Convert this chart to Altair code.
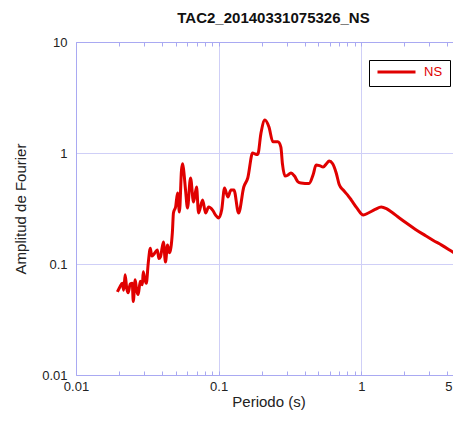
import altair as alt
import pandas as pd

periods = [0.0195, 0.0203, 0.0211, 0.0216, 0.0221, 0.0227, 0.0232, 0.0240, 0.0248, 0.0252,
           0.0260, 0.0266, 0.0273, 0.0282, 0.0292, 0.0296, 0.0304, 0.0311, 0.0321, 0.0332,
           0.0340, 0.0349, 0.0360, 0.0372, 0.0381, 0.0391, 0.0410, 0.0424, 0.0438, 0.0452,
           0.0474, 0.0482, 0.0500, 0.0515, 0.0531, 0.0549, 0.0558, 0.0567, 0.0586, 0.0605,
           0.0635, 0.0667, 0.0700, 0.0723, 0.0772, 0.0810, 0.0851, 0.0907, 0.0952, 0.100,
           0.105, 0.110, 0.116, 0.122, 0.128, 0.138, 0.150, 0.160, 0.173, 0.180,
           0.188, 0.198, 0.211, 0.225, 0.240, 0.260, 0.273, 0.280, 0.292, 0.305,
           0.321, 0.340, 0.360, 0.378, 0.430, 0.460, 0.482, 0.510, 0.540, 0.570,
           0.595, 0.630, 0.667, 0.700, 0.747, 0.800, 0.851, 0.930, 1.033, 1.12,
           1.25, 1.38, 1.50, 1.63, 1.85, 2.07, 2.40, 2.78, 3.20, 3.66,
           4.30, 5.00]
amplitudes = [0.056, 0.062, 0.067, 0.058, 0.080, 0.060, 0.055, 0.066, 0.067, 0.046,
              0.072, 0.058, 0.053, 0.070, 0.065, 0.085, 0.072, 0.067, 0.102, 0.139,
              0.118, 0.121, 0.128, 0.134, 0.112, 0.116, 0.158, 0.104, 0.148, 0.126,
              0.194, 0.288, 0.330, 0.436, 0.294, 0.700, 0.800, 0.720, 0.464, 0.320,
              0.595, 0.362, 0.494, 0.288, 0.377, 0.288, 0.326, 0.306, 0.276, 0.260,
              0.306, 0.484, 0.401, 0.464, 0.464, 0.288, 0.494, 0.595, 1.00, 0.98,
              0.97, 1.51, 1.98, 1.72, 1.26, 1.26, 1.13, 0.80, 0.62, 0.63,
              0.661, 0.62, 0.55, 0.537, 0.53, 0.64, 0.78, 0.77, 0.748, 0.80,
              0.847, 0.80, 0.661, 0.52, 0.464, 0.42, 0.377, 0.32, 0.276, 0.288,
              0.31, 0.326, 0.315, 0.294, 0.26, 0.234, 0.205, 0.182, 0.163, 0.148,
              0.13, 0.115]
series_name = "NS"
title_text = "TAC2_20140331075326_NS"
x_ticks = [0.01, 0.02, 0.03, 0.04, 0.05, 0.06, 0.07, 0.08, 0.09,
           0.1, 0.2, 0.3, 0.4, 0.5, 0.6, 0.7, 0.8, 0.9,
           1, 2, 3, 4, 5]
x_major = [0.01, 0.1, 1, 5]
y_ticks = [0.01, 0.1, 1, 10]

df = pd.DataFrame({"periodo": periods, "amp": amplitudes, "serie": series_name})

FONT = "Liberation Sans"
AXC = "#a9a9f2"
GRIDC = "#cfcff7"
major_test = " || ".join(f"datum.value == {v}" for v in x_major)

xscale = alt.Scale(type="log", domain=[0.01, 5], nice=False)
yscale = alt.Scale(type="log", domain=[0.01, 10], nice=False)

bottom_axis = alt.Axis(
    values=x_ticks,
    labelExpr=f"({major_test}) ? format(datum.value, '~g') : ''",
    labelOverlap=False, labelFlush=False,
    labelAlign={"condition": {"test": "datum.value == 5", "value": "right"}, "value": "center"},
    labelOffset={"condition": {"test": "datum.value == 5", "value": -9}, "value": 0},
    labelFont=FONT, labelFontSize=13, labelColor="#222", labelPadding=9,
    title="Periodo (s)", titleFont=FONT, titleFontSize=15, titleFontWeight="normal",
    titleColor="#222", titlePadding=1,
    domainColor=AXC, tickColor=AXC, tickSize={"expr": "-4"},
    grid=True, gridColor=GRIDC,
    gridOpacity={"condition": {"test": major_test, "value": 1}, "value": 0},
)
top_axis = alt.Axis(
    orient="top", values=x_ticks, labels=False, title="",
    domainColor=AXC, tickColor=AXC, tickSize={"expr": "-4"}, grid=False,
)
y_axis = alt.Axis(
    values=y_ticks, format="~g", ticks=False,
    labelFont=FONT, labelFontSize=13, labelColor="#222", labelPadding=9,
    title="Amplitud de Fourier", titleFont=FONT, titleFontSize=15,
    titleFontWeight="normal", titleColor="#222", titlePadding=13,
    domainColor=AXC, grid=True, gridColor=GRIDC,
)

main = alt.Chart(df).mark_line(strokeWidth=3, interpolate="monotone", clip=True).encode(
    x=alt.X("periodo:Q", scale=xscale, axis=bottom_axis),
    y=alt.Y("amp:Q", scale=yscale, axis=y_axis),
    color=alt.Color(
        "serie:N",
        scale=alt.Scale(domain=[series_name], range=["#e00000"]),
        legend=alt.Legend(
            title=None, orient="none", legendX=293, legendY=18,
            symbolType="stroke", symbolSize=1444, symbolStrokeWidth=3,
            clipHeight=10,
            labelColor="#e00000", labelFont=FONT, labelFontSize=13,
            strokeColor="#000000", fillColor="#ffffff", padding=7,
            cornerRadius=0, labelOffset=7,
        ),
    ),
)

top = alt.Chart(df).mark_line(opacity=0).encode(
    x=alt.X("periodo:Q", scale=xscale, axis=top_axis),
    y=alt.Y("amp:Q", scale=yscale, axis=None),
)

chart = alt.layer(main, top).resolve_axis(x="independent", y="independent").properties(
    width=385, height=333,
    padding={"left": 68, "top": 34, "right": -8, "bottom": 37},
    autosize=alt.AutoSizeParams(type="none"),
    title=alt.TitleParams(title_text, font=FONT, fontSize=15, fontWeight="bold",
                          color="#111", offset=10, dx=5),
).configure_view(stroke=None)

chart.save("out.html", embed_options={"renderer": "svg", "actions": False})
